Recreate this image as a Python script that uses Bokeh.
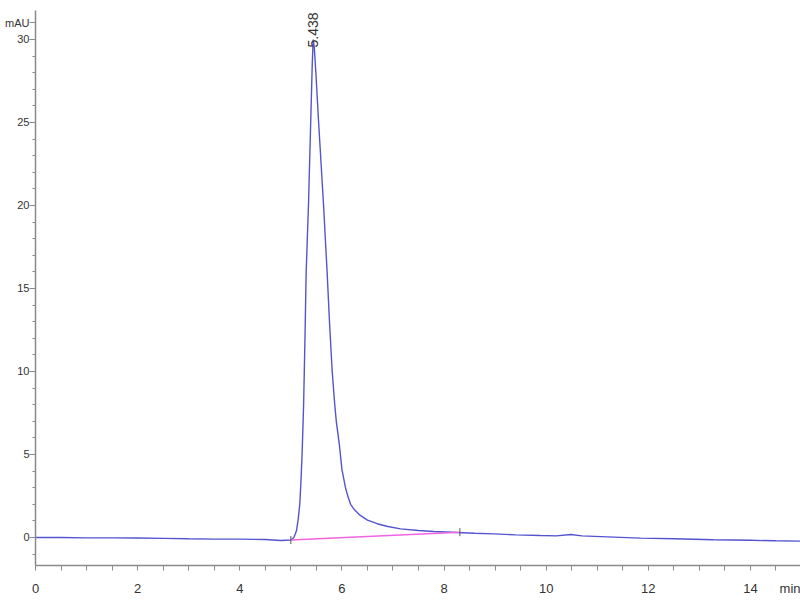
import math
from bokeh.plotting import figure
from bokeh.models import Range1d, FixedTicker, ColumnDataSource
from bokeh.core.properties import value
from bokeh.embed import file_html
from bokeh.resources import INLINE

# Chromatogram trace (time in min, signal in mAU)
time_min = [0.0, 0.5, 1.0, 1.5, 2.0, 2.5, 3.0, 3.5, 4.0, 4.5, 4.8, 5.0,
            5.06, 5.11, 5.14, 5.175, 5.20, 5.22, 5.25, 5.28, 5.30, 5.345, 5.389,
            5.42, 5.438, 5.46, 5.49, 5.544, 5.641, 5.71, 5.76, 5.81, 5.86, 5.89,
            5.95, 6.0, 6.07, 6.12, 6.17, 6.25, 6.36, 6.5, 6.69, 6.9, 7.15, 7.5,
            7.8, 8.26, 8.6, 8.97, 9.4, 9.89, 10.2, 10.48, 10.7, 11.2, 11.85,
            12.5, 13.28, 14.0, 14.5, 15.0]
signal_mau = [0.0, 0.0, -0.02, -0.02, -0.03, -0.05, -0.08, -0.1, -0.1, -0.12, -0.18, -0.15,
              0.0, 0.4, 1.0, 2.0, 3.5, 5.0, 8.0, 12.5, 16.0, 20.0, 25.0,
              28.6, 30.0, 29.5, 28.0, 25.0, 20.0, 16.0, 12.8, 10.0, 8.0, 7.0,
              5.6, 4.1, 3.0, 2.45, 2.0, 1.65, 1.33, 1.05, 0.83, 0.66, 0.52, 0.42,
              0.36, 0.30, 0.26, 0.22, 0.16, 0.12, 0.10, 0.18, 0.10, 0.04, -0.04,
              -0.08, -0.14, -0.17, -0.2, -0.22]

# Integration baseline of the peak
baseline_x = [5.0, 8.31]
baseline_y = [-0.15, 0.32]

# Peak annotation
peak_rt = [5.438]
peak_height = [30.0]
peak_text = ["5.438"]

# Axis ticks and their labels (units shown as the last tick label)
x_major_ticks = [0, 2, 4, 6, 8, 10, 12, 14, 14.84]
x_labels = {14.84: "min"}
x_minor_ticks = [0, 0.5, 1, 1.5, 2, 2.5, 3, 3.5, 4, 4.5, 5, 5.5, 6, 6.5, 7, 7.5,
                 8, 8.5, 9, 9.5, 10, 10.5, 11, 11.5, 12, 12.5, 13, 13.5, 14, 14.5]
y_major_ticks = [0, 5, 10, 15, 20, 25, 30, 31]
y_labels = {31: "mAU"}
y_minor_ticks = [-1, 1, 2, 3, 4, 6, 7, 8, 9, 11, 12, 13, 14, 16, 17, 18, 19,
                 21, 22, 23, 24, 26, 27, 28, 29]

p = figure(width=800, height=600, output_backend="svg", toolbar_location=None,
           x_range=Range1d(0, 14.98), y_range=Range1d(-1.687, 31.747),
           min_border_left=35, min_border_right=0, min_border_top=10,
           min_border_bottom=35, background_fill_color="white",
           border_fill_color="white")
p.outline_line_color = None
p.xgrid.visible = False
p.ygrid.visible = False

p.line(time_min, signal_mau, line_color="#5454d0", line_width=1.4)
p.line(baseline_x, baseline_y, line_color="#f064e0", line_width=1.6)
p.scatter(baseline_x, baseline_y, marker="dash", size=8, angle=math.pi / 2,
          line_color="#555555", line_width=1)

src = ColumnDataSource(dict(x=peak_rt, y=peak_height, t=peak_text))
p.text(x="x", y="y", text="t", source=src, angle=math.pi / 2,
       text_align="left", text_baseline="middle", y_offset=8,
       text_font=value("Liberation Sans"), text_font_size="14px",
       text_color="#333333")

for ax in (p.xaxis[0], p.yaxis[0]):
    ax.axis_line_color = "#8a8a8a"
    ax.axis_line_width = 1.5
    ax.major_tick_line_color = "#8a8a8a"
    ax.minor_tick_line_color = "#8a8a8a"
    ax.major_tick_in = 0
    ax.minor_tick_in = 0
    ax.major_label_text_font = "Liberation Sans"
    ax.major_label_text_color = "#333333"

p.xaxis.ticker = FixedTicker(ticks=x_major_ticks, minor_ticks=x_minor_ticks)
p.yaxis.ticker = FixedTicker(ticks=y_major_ticks, minor_ticks=y_minor_ticks)
p.xaxis.major_label_overrides = x_labels
p.yaxis.major_label_overrides = y_labels
p.xaxis.major_label_text_font_size = "13px"
p.yaxis.major_label_text_font_size = "11px"
p.xaxis.major_tick_out = 0
p.xaxis.minor_tick_out = 5
p.yaxis.major_tick_out = 6
p.yaxis.minor_tick_out = 3
p.xaxis.major_label_standoff = 10
p.yaxis.major_label_standoff = 0

open("out.html", "w").write(file_html(p, INLINE))
